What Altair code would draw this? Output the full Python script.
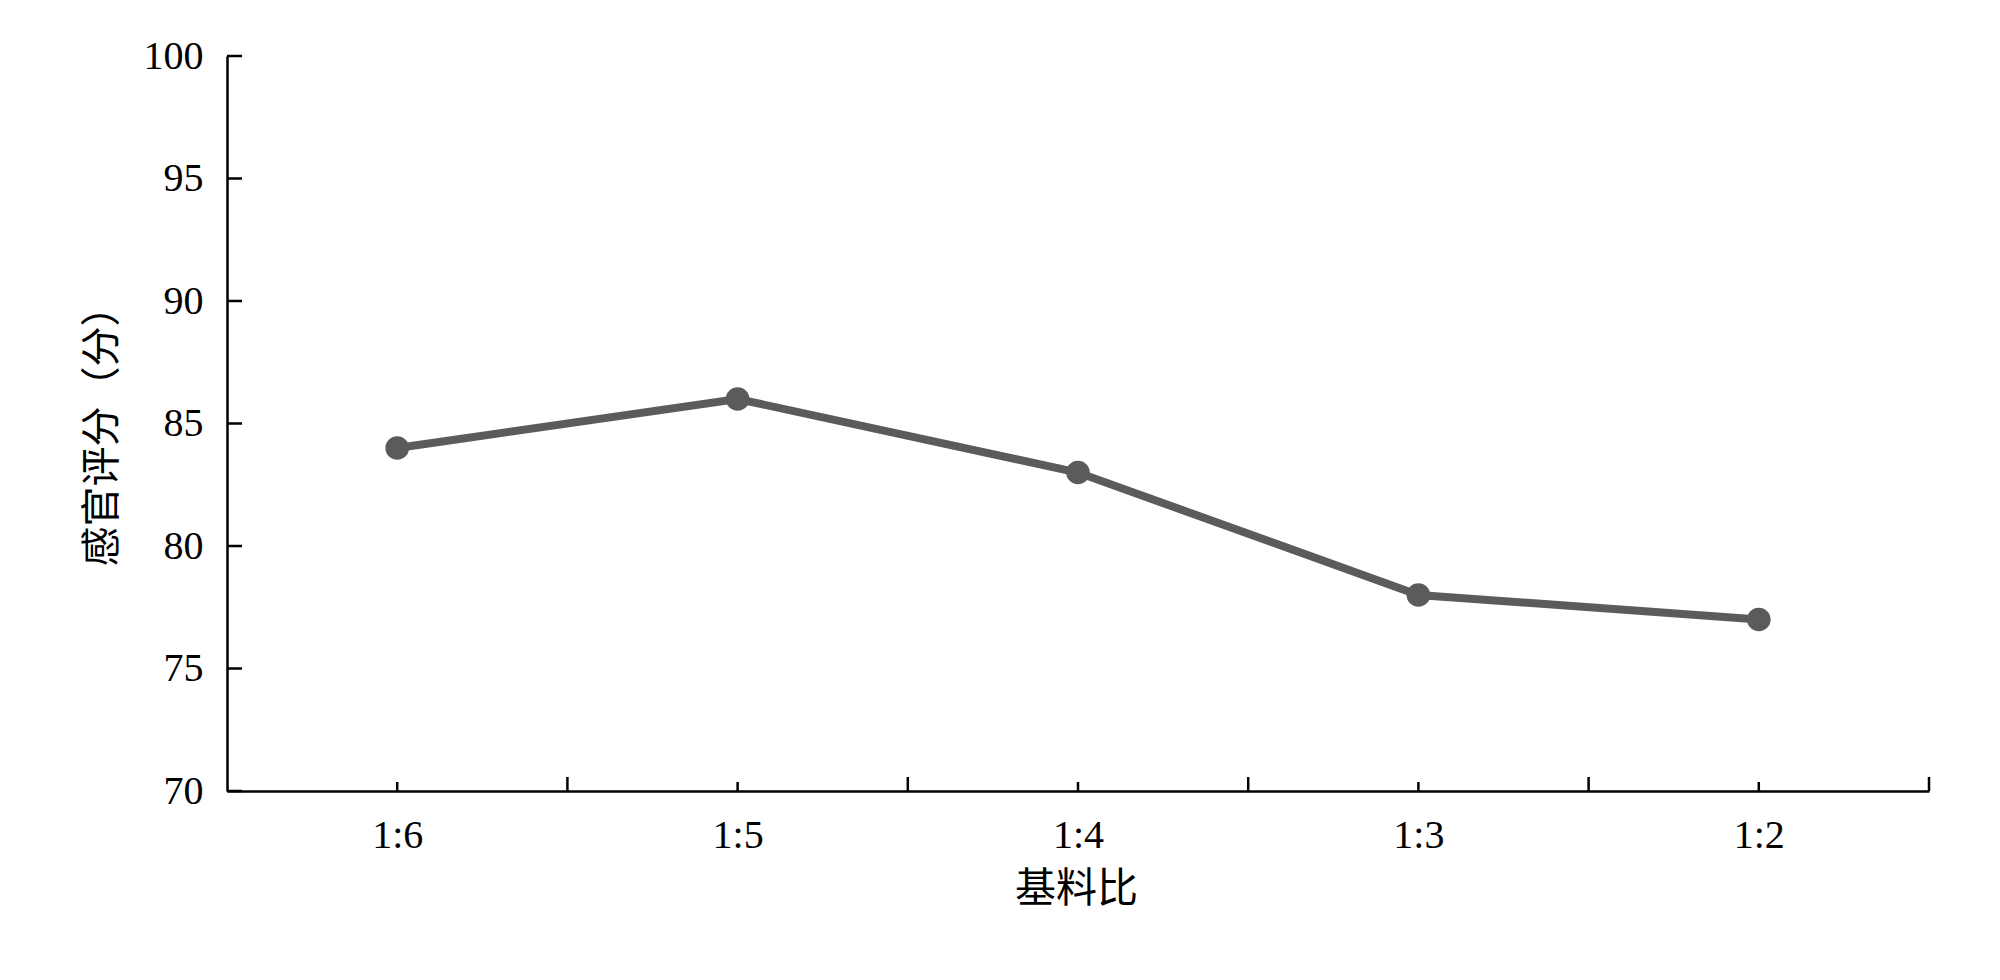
import altair as alt
import pandas as pd

ratios = ["1:6", "1:5", "1:4", "1:3", "1:2"]
scores = [84, 86, 83, 78, 77]
positions = [1, 2, 3, 4, 5]
y_ticks = [70, 75, 80, 85, 90, 95, 100]
band_edges = [1.5, 2.5, 3.5, 4.5, 5.5]

W, H = 1702, 735
df = pd.DataFrame({"pos": positions, "ratio": ratios, "score": scores})
ydf = pd.DataFrame({"v": y_ticks})
edf = pd.DataFrame({"e": band_edges})

label_expr = "[" + ",".join("'%s'" % r for r in ratios) + "][datum.value - 1]"

xscale = alt.Scale(domain=[0.5, 5.5], nice=False, zero=False)
yscale = alt.Scale(domain=[70, 100], nice=False, zero=False)
FONT = "Liberation Serif"
CJK = "Noto Sans CJK SC"
LC = "#5b5b5b"

xaxis = alt.Axis(values=positions, labelExpr=label_expr, ticks=False, tickSize=0,
                 grid=False, domainColor="black", domainWidth=2.5,
                 labelFont=FONT, labelFontSize=40, labelColor="black", labelPadding=24,
                 title="基料比", titleFont=CJK, titleFontSize=41, titleFontWeight="normal",
                 titleColor="black", titleX=W / 2 - 2, titleY=98, titleBaseline="middle",
                 titleAlign="center")
yaxis = alt.Axis(values=y_ticks, ticks=False, tickSize=0, grid=False,
                 domainColor="black", domainWidth=2.5,
                 labelFont=FONT, labelFontSize=40, labelColor="black", labelPadding=24,
                 title="感官评分（分）", titleFont=CJK, titleFontSize=40,
                 titleFontWeight="normal", titleColor="black", titleAngle=-90,
                 titleX=-125, titleY=370, titleBaseline="middle", titleAlign="center")

base = alt.Chart(df)
line = base.mark_line(color=LC, strokeWidth=8).encode(
    x=alt.X("pos:Q", scale=xscale, axis=xaxis),
    y=alt.Y("score:Q", scale=yscale, axis=yaxis),
)
pts = base.mark_point(filled=True, color=LC, size=560, opacity=1, shape="circle").encode(
    x=alt.X("pos:Q", scale=xscale),
    y=alt.Y("score:Q", scale=yscale),
)

ytk = alt.Chart(ydf).mark_rule(color="black", strokeWidth=2.5, x2Offset=15).encode(
    x=alt.datum(0.5, scale=xscale), x2=alt.datum(0.5),
    y=alt.Y("v:Q", scale=yscale), y2="v:Q",
)
ctk = alt.Chart(df).mark_rule(color="black", strokeWidth=2.5, y2Offset=-9).encode(
    x=alt.X("pos:Q", scale=xscale), x2="pos:Q",
    y=alt.datum(70, scale=yscale), y2=alt.datum(70),
)
etk = alt.Chart(edf).mark_rule(color="black", strokeWidth=2.5, y2Offset=-14).encode(
    x=alt.X("e:Q", scale=xscale), x2="e:Q",
    y=alt.datum(70, scale=yscale), y2=alt.datum(70),
)

chart = alt.layer(line, pts, ytk, ctk, etk).properties(
    width=W, height=H,
    autosize=alt.AutoSizeParams(type="none"),
    padding={"left": 219, "top": 48, "right": 50, "bottom": 150},
).configure(background="white", view=alt.ViewConfig(strokeWidth=0, stroke="transparent"))

chart.save("out.html", embed_options={"renderer": "svg", "actions": False})
